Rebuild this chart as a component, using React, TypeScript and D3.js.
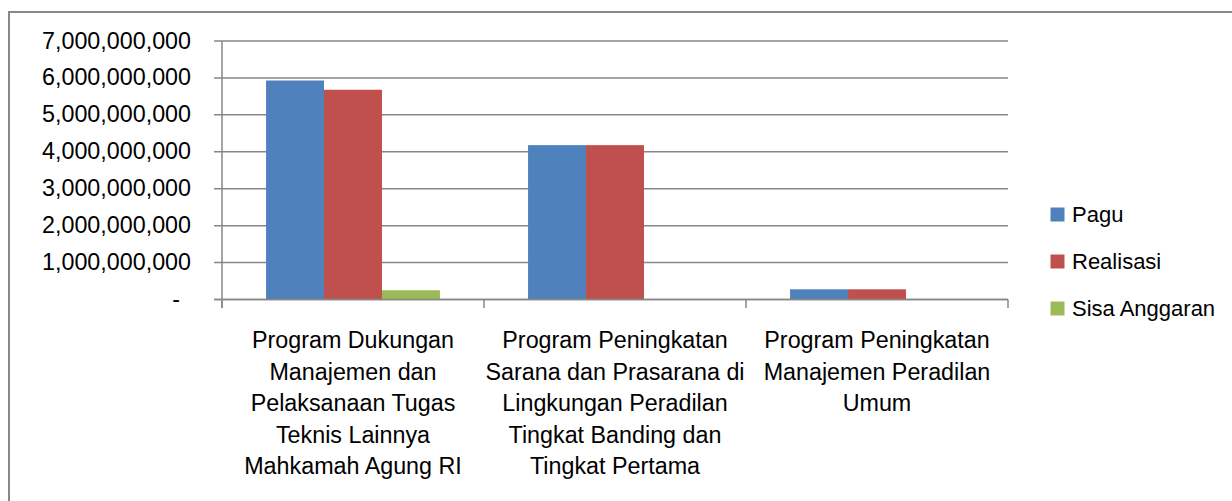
import React from "react";
import * as d3 from "d3";

const categories: string[][] = [
  ["Program Dukungan", "Manajemen dan", "Pelaksanaan Tugas", "Teknis Lainnya", "Mahkamah Agung RI"],
  ["Program Peningkatan", "Sarana dan Prasarana di", "Lingkungan Peradilan", "Tingkat Banding dan", "Tingkat Pertama"],
  ["Program Peningkatan", "Manajemen Peradilan", "Umum"],
];
const seriesNames = ["Pagu", "Realisasi", "Sisa Anggaran"];
const pagu = [5930000000, 4180000000, 276000000];
const realisasi = [5680000000, 4180000000, 276000000];
const sisaAnggaran = [250000000, 0, 0];
const yTicks = [0, 1e9, 2e9, 3e9, 4e9, 5e9, 6e9, 7e9];
const colors = ["#4F81BD", "#C0504D", "#9BBB59"];

const W = 1232;
const H = 501;
const plot = { left: 222, right: 1008, top: 41, bottom: 299.5 };
const FONT = "'Liberation Sans', Arial, sans-serif";
const GRID = "#878787";

export default function App() {
  const series = [pagu, realisasi, sisaAnggaran];
  const catIdx = categories.map((_, i) => String(i));
  const x0 = d3.scaleBand<string>().domain(catIdx).range([plot.left, plot.right]).paddingInner(0).paddingOuter(0);
  const x1 = d3
    .scaleBand<string>()
    .domain(seriesNames)
    .range([0, x0.bandwidth()])
    .paddingInner(0)
    .paddingOuter(0.76);
  const y = d3.scaleLinear().domain([0, 7e9]).range([plot.bottom, plot.top]);
  const fmt = d3.format(",");
  const boundaries = [...catIdx.map((c) => x0(c) as number), plot.right];

  return (
    <svg
      width={W}
      height={H}
      style={{ position: "absolute", left: 0, top: 0, background: "#fff" }}
      fontFamily={FONT}
    >
      <rect x={0} y={0} width={W} height={H} fill="#fff" />
      {/* outer chart border (top and left visible) */}
      <rect x={9} y={12} width={W + 20} height={H + 20} fill="none" stroke={GRID} strokeWidth={2} />

      {/* gridlines + y ticks */}
      {yTicks.map((t) => (
        <line key={"g" + t} x1={plot.left - 8} x2={plot.right} y1={y(t)} y2={y(t)} stroke={GRID} strokeWidth={1.5} />
      ))}
      {yTicks.map((t) => (
        <text
          key={"l" + t}
          x={t === 0 ? 180 : 191}
          y={y(t) + 7.5}
          textAnchor="end"
          fontSize={23.3}
          fill="#000"
        >
          {t === 0 ? "-" : fmt(t)}
        </text>
      ))}

      {/* bars */}
      {series.map((vals, si) =>
        vals.map((v, ci) => {
          const bx = (x0(String(ci)) as number) + (x1(seriesNames[si]) as number);
          return (
            <rect
              key={`b${si}-${ci}`}
              x={bx}
              y={y(v)}
              width={x1.bandwidth()}
              height={y(0) - y(v)}
              fill={colors[si]}
            />
          );
        })
      )}

      {/* axes */}
      <line x1={plot.left} x2={plot.left} y1={plot.top} y2={plot.bottom + 8.5} stroke={GRID} strokeWidth={1.5} />
      <line x1={plot.left - 8} x2={plot.right} y1={plot.bottom} y2={plot.bottom} stroke={GRID} strokeWidth={1.5} />
      {boundaries.map((bx, i) => (
        <line key={"t" + i} x1={bx} x2={bx} y1={plot.bottom} y2={plot.bottom + 8.5} stroke={GRID} strokeWidth={1.5} />
      ))}

      {/* category labels */}
      {categories.map((lines, ci) => {
        const cx = (x0(String(ci)) as number) + x0.bandwidth() / 2;
        return (
          <text key={"c" + ci} textAnchor="middle" fontSize={23.3} fill="#000">
            {lines.map((ln, li) => (
              <tspan key={li} x={cx} y={348 + li * 31.5}>
                {ln}
              </tspan>
            ))}
          </text>
        );
      })}

      {/* legend */}
      {seriesNames.map((name, i) => (
        <g key={"lg" + i}>
          <rect x={1050.5} y={207.5 + i * 47} width={14} height={14} fill={colors[i]} />
          <text x={1072} y={221.5 + i * 47} fontSize={22} fill="#000">
            {name}
          </text>
        </g>
      ))}
    </svg>
  );
}
